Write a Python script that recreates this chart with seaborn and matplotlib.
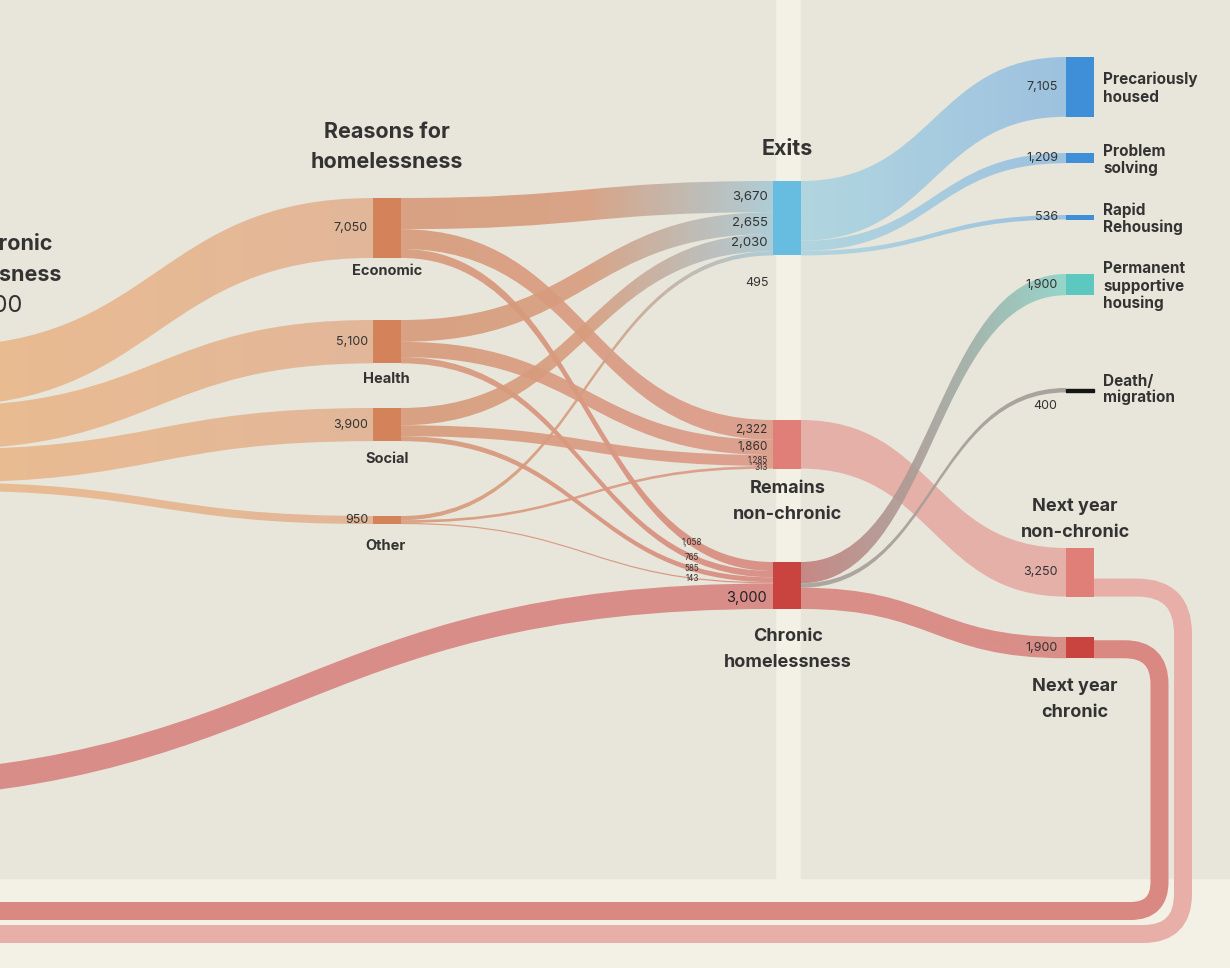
import numpy as np
import matplotlib
matplotlib.use("Agg")
import matplotlib.pyplot as plt
import seaborn as sns
from matplotlib.path import Path
from matplotlib.patches import PathPatch, Rectangle

# ---- data -------------------------------------------------------------
root_nodes = ["prev_nc", "prev_ch"]
root_values = [17000, 3000]

flow_source = (["prev_nc"] * 4 + ["Economic"] * 3 + ["Health"] * 3 + ["Social"] * 3
               + ["Other"] * 3 + ["prev_ch"] + ["Exits"] * 3 + ["Chronic"] * 3 + ["Remains"])
flow_target = (["Economic", "Health", "Social", "Other"]
               + ["Exits", "Remains", "Chronic"] * 4
               + ["Chronic"]
               + ["Precarious", "Problem", "Rapid"]
               + ["PSH", "Death", "NextCh"]
               + ["NextNC"])
flow_value = [7050, 5100, 3900, 950,
              3670, 2322, 1058,
              2655, 1860, 765,
              2030, 1285, 585,
              495, 313, 143,
              3000,
              7105, 1209, 536,
              1900, 400, 1900,
              3250]

# ---- layout -----------------------------------------------------------
K = 0.0085          # px per person
NODE_W = 28
NODE_X = {"prev_nc": -88, "prev_ch": -218,
          "Economic": 373, "Health": 373, "Social": 373, "Other": 373,
          "Exits": 773, "Remains": 773, "Chronic": 773,
          "Precarious": 1066, "Problem": 1066, "Rapid": 1066, "PSH": 1066,
          "Death": 1066, "NextNC": 1066, "NextCh": 1066}
NODE_Y = {"prev_nc": 346, "prev_ch": 776,
          "Economic": 198, "Health": 320, "Social": 408, "Other": 516,
          "Exits": 181, "Remains": 420, "Chronic": 562,
          "Precarious": 57, "Problem": 153, "Rapid": 215, "PSH": 274,
          "Death": 388, "NextNC": 548, "NextCh": 637}
NODE_COLOR = {"Economic": "#D3825A", "Health": "#D3825A", "Social": "#D3825A", "Other": "#D3825A",
              "Exits": "#66BDE0", "Remains": "#E07F78", "Chronic": "#C9443F",
              "Precarious": "#3F8ED8", "Problem": "#3F8ED8", "Rapid": "#3F8ED8",
              "PSH": "#5DC8BF", "Death": "#151515", "NextNC": "#E07F78", "NextCh": "#C9443F"}

BG = "#E8E6DA"
LIGHT = "#F3F1E5"
TXT = "#333333"

sns.set_theme(style="white")
plt.rcParams["font.family"] = ["Inter", "DejaVu Sans"]


def band_color(s, t):
    if s == "prev_nc":
        return ["#ECB788", "#E2B293"]
    if s in ("Economic", "Health", "Social", "Other"):
        if t == "Exits":
            return ["#D89A79", "#D79D7E", "#A8CAD6"]
        if t == "Remains":
            return ["#D89A79", "#DC9888"]
        return ["#D89A79", "#D88980"]
    if s == "Exits":
        return ["#ACD5E0", "#95BEE0"]
    if s == "Chronic":
        if t == "PSH":
            return ["#C47E7C", "#A6A29C", "#8DD4C9"]
        if t == "Death":
            return ["#A8A09A", "#A39C96"]
        return ["#D8847F", "#D8847F"]
    if s == "Remains":
        return ["#E5AAA3", "#E5AAA3"]
    return ["#D8837F", "#D8837F"]


# ---- compute bands ----------------------------------------------------
height = {n: K * v for n, v in zip(root_nodes, root_values)}
out_total = {}
for s, v in zip(flow_source, flow_value):
    out_total[s] = out_total.get(s, 0) + v
out_off, in_off, bands = {}, {}, []
for s, t, v in zip(flow_source, flow_target, flow_value):
    w = v / out_total[s] * height[s]
    y0 = NODE_Y[s] + out_off.get(s, 0)
    out_off[s] = out_off.get(s, 0) + w
    y1 = NODE_Y[t] + in_off.get(t, 0)
    in_off[t] = in_off.get(t, 0) + w
    height[t] = in_off[t]
    bands.append(dict(s=s, t=t, v=v, w=w, x0=NODE_X[s] + NODE_W, y0=y0,
                      x1=NODE_X[t], y1=y1))


def bez(b, tt):
    xm = (b["x0"] + b["x1"]) / 2
    x = ((1 - tt) ** 3 * b["x0"] + 3 * (1 - tt) ** 2 * tt * xm
         + 3 * (1 - tt) * tt ** 2 * xm + tt ** 3 * b["x1"])
    y = b["y0"] + (b["y1"] - b["y0"]) * (3 * tt ** 2 - 2 * tt ** 3)
    return x, y


def center_at(b, x):
    lo, hi = 0.0, 1.0
    for _ in range(40):
        mid = (lo + hi) / 2
        if bez(b, mid)[0] < x:
            lo = mid
        else:
            hi = mid
    return bez(b, lo)[1] + b["w"] / 2


def draw_band(ax, b, alpha=0.9, z=2):
    x0, y0, x1, y1, w = b["x0"], b["y0"], b["x1"], b["y1"], b["w"]
    xm = (x0 + x1) / 2
    verts = [(x0, y0), (xm, y0), (xm, y1), (x1, y1), (x1, y1 + w),
             (xm, y1 + w), (xm, y0 + w), (x0, y0 + w), (x0, y0)]
    codes = [Path.MOVETO, Path.CURVE4, Path.CURVE4, Path.CURVE4, Path.LINETO,
             Path.CURVE4, Path.CURVE4, Path.CURVE4, Path.CLOSEPOLY]
    patch = PathPatch(Path(verts, codes), facecolor="none", edgecolor="none")
    ax.add_patch(patch)
    cmap = sns.blend_palette(band_color(b["s"], b["t"]), as_cmap=True)
    grad = np.linspace(0, 1, 256).reshape(1, -1)
    ytop = min(y0, y1) - 2
    ybot = max(y0, y1) + w + 2
    im = ax.imshow(grad, cmap=cmap, extent=(x0, x1, ybot, ytop), aspect="auto",
                   alpha=alpha, zorder=z, interpolation="bilinear")
    im.set_clip_path(patch)


def draw_loop(ax, node, x_turn, y_bottom, r_top, r_bot, color, lw_px=18):
    xs = NODE_X[node] + NODE_W
    yc = NODE_Y[node] + height[node] - lw_px / 2
    verts = [(xs, yc), (x_turn - r_top, yc), (x_turn, yc), (x_turn, yc + r_top),
             (x_turn, y_bottom - r_bot), (x_turn, y_bottom), (x_turn - r_bot, y_bottom),
             (-30, y_bottom)]
    codes = [Path.MOVETO, Path.LINETO, Path.CURVE3, Path.CURVE3,
             Path.LINETO, Path.CURVE3, Path.CURVE3, Path.LINETO]
    ax.add_patch(PathPatch(Path(verts, codes), facecolor="none", edgecolor=color,
                           lw=lw_px * 0.72, capstyle="butt", joinstyle="round", zorder=1.5))


# ---- figure -----------------------------------------------------------
fig = plt.figure(figsize=(12.3, 9.68), dpi=100, facecolor=LIGHT)
ax = fig.add_axes([0, 0, 1, 1])
ax.set_facecolor(LIGHT)
ax.add_patch(Rectangle((0, 0), 775, 878, color=BG, zorder=0))
ax.add_patch(Rectangle((801, 0), 440, 878, color=BG, zorder=0))

# loops back to the start
draw_loop(ax, "NextNC", 1183, 934, 46, 40, "#E8AFA8")
draw_loop(ax, "NextCh", 1159.5, 911, 35, 29, "#D98882")

for b in bands:
    z = 1.8 if b["s"] == "Remains" else 2
    draw_band(ax, b, z=z)

for n, hgt in height.items():
    if n in root_nodes:
        continue
    if n == "Death":
        ax.add_patch(Rectangle((NODE_X[n], NODE_Y[n] + hgt / 2 - 1.5), NODE_W, 3,
                               color=NODE_COLOR[n], zorder=3))
        continue
    ax.add_patch(Rectangle((NODE_X[n], NODE_Y[n]), NODE_W, hgt,
                           color=NODE_COLOR[n], lw=0, zorder=3))

# ---- value labels -----------------------------------------------------
for b in bands:
    s, t, v = b["s"], b["t"], b["v"]
    lab = f"{v:,}"
    yc = b["y1"] + b["w"] / 2
    if s == "prev_nc":
        ax.text(b["x1"] - 5, yc, lab, ha="right", va="center", fontsize=9,
                color=TXT, zorder=5)
    elif t == "Exits" and s == "Other":
        ax.text(757, NODE_Y[t] + height[t] + 28, lab, ha="center", va="center",
                fontsize=9, color=TXT, zorder=5)
    elif t == "Exits":
        ax.text(b["x1"] - 5, yc, lab, ha="right", va="center", fontsize=9.5,
                color=TXT, zorder=5)
    elif t == "Remains":
        fs = 8.5 if b["w"] > 12 else 5.8
        ax.text(b["x1"] - 5, yc, lab, ha="right", va="center", fontsize=fs,
                color=TXT, zorder=5)
    elif t == "Chronic" and s == "prev_ch":
        ax.text(b["x1"] - 6, yc + 2, lab, ha="right", va="center", fontsize=10.5,
                color="#222222", zorder=5)
    elif t == "Chronic":
        ax.text(692, center_at(b, 692), lab, ha="center", va="center",
                fontsize=5.8, color=TXT, zorder=5)
    elif t == "Death":
        ax.text(1045, yc + 16, lab, ha="center", va="center", fontsize=9,
                color=TXT, zorder=5)
    else:
        ax.text(b["x1"] - 8, yc, lab, ha="right", va="center", fontsize=9,
                color=TXT, zorder=5)

# ---- titles and node names -------------------------------------------
def label(x, y, lines, size, step, ha="center", weight="bold"):
    for i, line in enumerate(lines):
        ax.text(x, y + i * step, line, ha=ha, va="baseline", fontsize=size,
                fontweight=weight, color=TXT, zorder=5)

label(-14, 250, ["Non-chronic", "homelessness"], 15.5, 31)
ax.text(-14, 312, f"{root_values[0]:,}", ha="center", va="baseline", fontsize=17,
        fontweight="normal", color=TXT, zorder=5)
label(387, 138, ["Reasons for", "homelessness"], 15.5, 30)
label(787, 155, ["Exits"], 15.5, 0)
label(387, 275, ["Economic"], 10.5, 0)
label(386, 383, ["Health"], 10.5, 0)
label(387, 463, ["Social"], 10.5, 0)
label(386, 550, ["Other"], 10.5, 0)
label(788, 493, ["Remains", "non-chronic"], 13, 26)
label(788, 641, ["Chronic", "homelessness"], 13, 26)
label(1075, 511, ["Next year", "non-chronic"], 13, 26)
label(1075, 691, ["Next year", "chronic"], 13, 26)
label(1103, 84, ["Precariously", "housed"], 11, 18, ha="left")
label(1103, 156, ["Problem", "solving"], 11, 17, ha="left")
label(1103, 215, ["Rapid", "Rehousing"], 11, 17, ha="left")
label(1103, 273, ["Permanent", "supportive", "housing"], 11, 17.5, ha="left")
label(1103, 386, ["Death/", "migration"], 11, 16, ha="left")

ax.set_xlim(0, 1230)
ax.set_ylim(968, 0)
ax.axis("off")
fig.savefig("out.png", dpi=100, facecolor=LIGHT)
